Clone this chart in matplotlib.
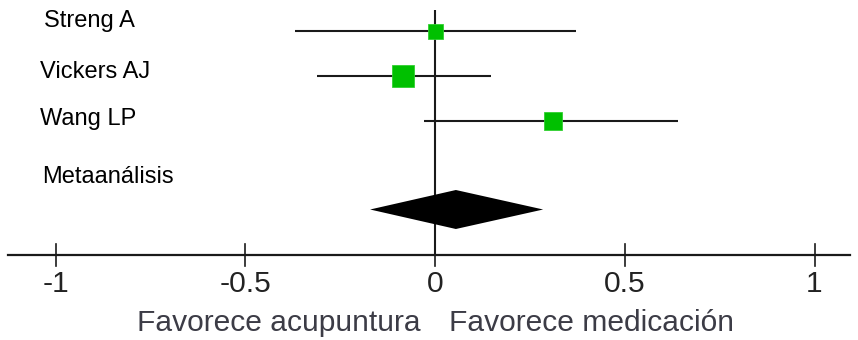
import matplotlib
matplotlib.use("Agg")
import matplotlib.pyplot as plt

# Study estimates (difference, lower CI, upper CI)
studies = ["Streng A", "Vickers AJ", "Wang LP"]
estimate = [0.0, -0.084, 0.311]
ci_low = [-0.369, -0.311, -0.029]
ci_high = [0.372, 0.148, 0.640]
weight_size = [10.8, 16, 13]

# Pooled result
pooled_label = "Metaanálisis"
pooled_est = 0.055
pooled_low = -0.171
pooled_high = 0.285

tick_values = [-1, -0.5, 0, 0.5, 1]
tick_labels = ["-1", "-0.5", "0", "0.5", "1"]
footer_left = "Favorece acupuntura"
footer_right = "Favorece medicación"

# layout (pixel rows / columns)
W, H = 858, 340
px_per_unit = 379.5
x_zero_px = 435
row_y = [31, 76, 121]
label_x = [44, 40, 40]
label_base = [27, 78, 125]
pooled_label_x = 42
pooled_label_base = 183
diamond_y = 209.5
diamond_half_h = 19.5
axis_y = 255


def px_to_x(px):
    return (px - x_zero_px) / px_per_unit


fig = plt.figure(figsize=(W / 100, H / 100), dpi=100)
ax = fig.add_axes([0, 0, 1, 1])
ax.set_xlim(px_to_x(0), px_to_x(W))
ax.set_ylim(H, 0)
ax.axis("off")

green = "#00c000"
line_c = "#1a1a1a"
font = "Liberation Sans"

# reference line at zero
ax.plot([0, 0], [10, axis_y], color=line_c, lw=1.5, solid_capstyle="butt")

# horizontal axis with ticks
ax.plot([px_to_x(8), px_to_x(850)], [axis_y, axis_y], color=line_c, lw=1.6)
for v, t in zip(tick_values, tick_labels):
    ax.plot([v, v], [244, 266], color=line_c, lw=1.2)
    ax.text(v, 292, t, ha="center", va="baseline", fontsize=21.6,
            family=font, color="#222222")

# studies
for name, e, lo, hi, s, y, lx, ly in zip(studies, estimate, ci_low, ci_high,
                                         weight_size, row_y, label_x, label_base):
    ax.plot([lo, hi], [y, y], color=line_c, lw=1.5, solid_capstyle="butt", zorder=2)
    ax.plot([e], [y], marker="s", ms=s, color=green, mec="#30d030", mew=0.6, zorder=3)
    ax.text(px_to_x(lx), ly, name, ha="left", va="baseline",
            fontsize=17, family=font, color="black")

# pooled diamond
ax.text(px_to_x(pooled_label_x), pooled_label_base, pooled_label, ha="left",
        va="baseline", fontsize=17, family=font, color="black")
ax.fill([pooled_low, pooled_est, pooled_high, pooled_est],
        [diamond_y, diamond_y - diamond_half_h, diamond_y, diamond_y + diamond_half_h],
        color="black", lw=0, zorder=4)

# footer: direction of effect on each side of zero
ax.text(px_to_x(137), 331, footer_left, ha="left", va="baseline",
        fontsize=21.6, family=font, color="#3c3c46")
ax.text(px_to_x(449), 331, footer_right, ha="left", va="baseline",
        fontsize=21.6, family=font, color="#3c3c46")

fig.savefig("out.png", dpi=100)
